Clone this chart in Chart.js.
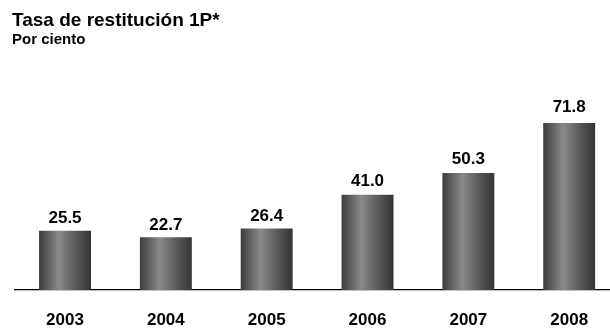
<!DOCTYPE html>
<html>
<head>
<meta charset="utf-8">
<script src="https://cdn.jsdelivr.net/npm/chart.js@4.4.0/dist/chart.umd.min.js"></script>
<style>
  html, body { margin: 0; padding: 0; background: #fff; overflow: hidden; }
  #caja { position: relative; width: 610px; height: 333px; overflow: hidden; }
  #grafico { position: absolute; left: 0; top: 0; }
</style>
</head>
<body>
<div id="caja"><canvas id="grafico" width="620" height="333"></canvas></div>
<script>
const titulo = 'Tasa de restitución 1P*';
const subtitulo = 'Por ciento';
const anios = ['2003', '2004', '2005', '2006', '2007', '2008'];
const tasa = [25.5, 22.7, 26.4, 41.0, 50.3, 71.8];

const fuente = '"Liberation Sans", Arial, sans-serif';
const anchoBarra = 0.515;

// degradado horizontal de cada barra (efecto cilindro)
function degradado(ctx) {
    const chart = ctx.chart;
    const escalaX = chart.scales.x;
    if (!chart.chartArea || !escalaX || ctx.dataIndex == null) return '#5a5a5a';
    const centro = escalaX.getPixelForValue(ctx.dataIndex);
    const ancho = chart.chartArea.width / anios.length * anchoBarra;
    const izq = centro - ancho / 2;
    const g = chart.ctx.createLinearGradient(izq, 0, izq + ancho, 0);
    g.addColorStop(0, '#3c3c3c');
    g.addColorStop(0.38, '#8a8a8a');
    g.addColorStop(0.75, '#535353');
    g.addColorStop(1, '#343434');
    return g;
}

// textos: titulo, valores sobre las barras y años
const textos = {
    id: 'textos',
    afterDatasetsDraw(chart) {
        const ctx = chart.ctx;
        ctx.save();
        ctx.fillStyle = '#000';
        ctx.textAlign = 'left';
        ctx.textBaseline = 'alphabetic';
        ctx.font = 'bold 19px ' + fuente;
        ctx.fillText(titulo, 12, 26);
        ctx.font = 'bold 15px ' + fuente;
        ctx.fillText(subtitulo, 12, 44);

        ctx.textAlign = 'center';
        ctx.font = 'bold 17px ' + fuente;
        const barras = chart.getDatasetMeta(0).data;
        barras.forEach((b, i) => {
            ctx.fillText(tasa[i].toFixed(1), b.x, b.y - 6 - tasa[i] * 0.065);
        });
        const escalaX = chart.scales.x;
        anios.forEach((a, i) => {
            ctx.fillText(a, escalaX.getPixelForValue(i), 325);
        });
        ctx.restore();
    }
};

const graficoTasa = new Chart(document.getElementById('grafico'), {
    type: 'bar',
    data: {
        labels: anios,
        datasets: [{
            label: titulo,
            data: tasa,
            backgroundColor: degradado,
            borderWidth: 0,
            barPercentage: anchoBarra,
            categoryPercentage: 1
        }]
    },
    options: {
        responsive: false,
        animation: false,
        layout: { padding: { top: 104, left: 14.6, right: 0.4, bottom: 35 } },
        plugins: { legend: { display: false }, tooltip: { enabled: false } },
        scales: {
            x: {
                grid: { display: false },
                ticks: { display: false },
                border: { display: true, color: '#000', width: 1.2 }
            },
            y: {
                display: false,
                min: 0,
                max: 80
            }
        }
    },
    plugins: [textos]
});
</script>
</body>
</html>
